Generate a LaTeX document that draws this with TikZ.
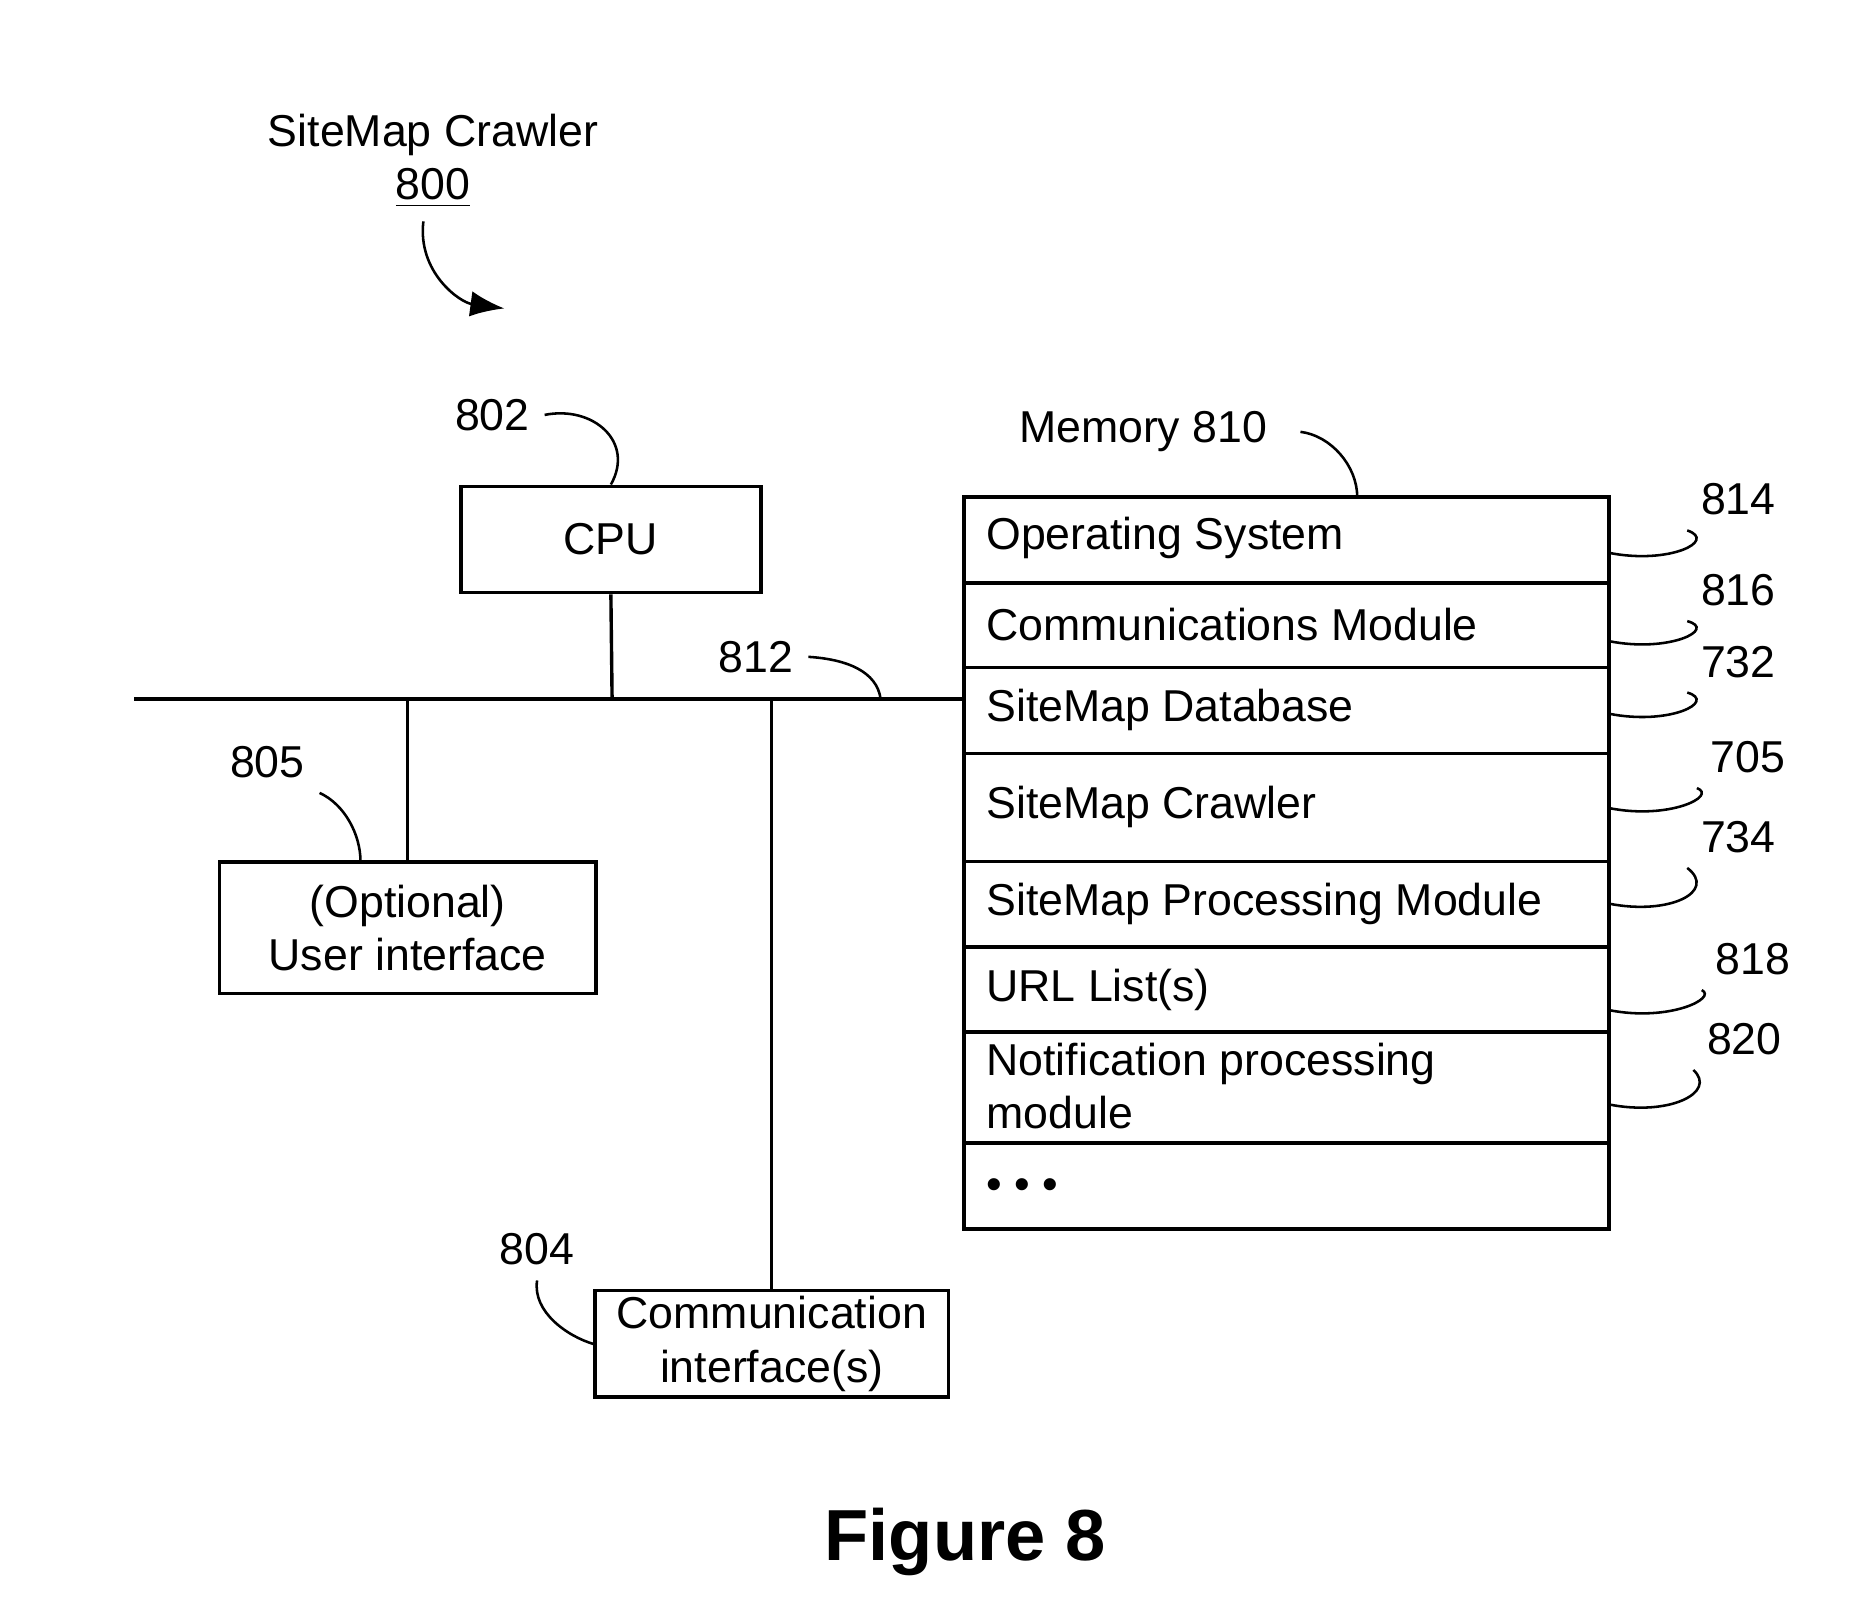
\documentclass[tikz,border=0pt]{standalone}
\usepackage{fontspec}
\setmainfont{Liberation Sans}
\usetikzlibrary{arrows.meta}
\begin{document}
\begin{tikzpicture}[x=0.01cm,y=-0.01cm,
	box/.style={draw=black, thick, inner sep=0pt},
	lbl/.style={font=\fontsize{10.5}{12.5}\selectfont},
	lead/.style={draw=black, semithick},
	row/.style={lbl, anchor=west}]
	\useasboundingbox (0,0) rectangle (1550,1328);
	% title and arrow
	\node[lbl, align=center] (title) at (358,133) {SiteMap Crawler\\\underline{800}};
	\coordinate (t1) at (350,183);
	\coordinate (t2) at (417,255);
	\draw[lead, -{Latex[length=8pt,width=6pt]}] (t1) .. controls (345,225) and (380,250) .. (t2);
	% CPU
	\node[box, minimum width=2.48cm, minimum height=0.88cm, lbl] (cpu) at (505,446) {CPU};
	\node[lbl] (n802) at (407,343) {802};
	\draw[lead] (n802.east) .. controls (490,335) and (525,365) .. (cpu.north);
	% bus
	\coordinate (busl) at (111,578);
	\coordinate (busr) at (797,578);
	\draw[thick] (busl) -- (busr);
	\coordinate (cpub) at (506,578);
	\draw[thick] (cpu.south) -- (cpub);
	\node[lbl] (n812) at (625,543) {812};
	\coordinate (b812) at (728,578);
	\draw[lead] (n812.east) .. controls (700,545) and (725,555) .. (b812);
	% user interface
	\node[box, minimum width=3.11cm, minimum height=1.09cm, lbl, align=center] (ui) at (337,767) {(Optional)\\User interface};
	\coordinate (uib) at (337,578);
	\draw[thick] (uib) -- (ui.north);
	\node[lbl] (n805) at (221,630) {805};
	\coordinate (ui5) at (298,712);
	\draw[lead] (n805.south east) .. controls (285,665) and (298,690) .. (ui5);
	% communication interface
	\node[box, minimum width=2.92cm, minimum height=0.88cm, lbl, align=center] (ci) at (638,1111) {Communication\\interface(s)};
	\coordinate (cib) at (638,578);
	\draw[thick] (cib) -- (ci.north);
	\node[lbl] (n804) at (444,1033) {804};
	\draw[lead] (n804.south) .. controls (440,1085) and (470,1105) .. (ci.west);
	% memory
	\draw[thick] (797,411) rectangle (1330,1016);
	\foreach \y in {482,552,623,712,783,853,945}
		\draw[thick] (797,\y) -- (1330,\y);
	\node[row] (os) at (803,445) {Operating System};
	\node[row] (cm) at (803,516) {Communications Module};
	\node[row] (db) at (803,587) {SiteMap Database};
	\node[row] (cr) at (803,667) {SiteMap Crawler};
	\node[row] (pm) at (803,747) {SiteMap Processing Module};
	\node[row] (ul) at (803,818) {URL List(s)};
	\node[row, align=left] (np) at (803,898) {Notification processing\\module};
	\node[row] (dots) at (803,983) {\textbullet\ \textbullet\ \textbullet};
	\node[lbl] (mem) at (945,357) {Memory 810};
	\coordinate (memt) at (1122,411);
	\draw[lead] (mem.east) ++(15,0) .. controls (1100,360) and (1122,385) .. (memt);
	% side labels
	\foreach \n/\ly/\ry/\lx in {814/413/457/1437, 816/488/530/1437, 732/547/590/1437, 705/626/668/1445, 734/692/747/1437, 818/793/835/1449, 820/859/913/1442}{
		\node[lbl] (s\n) at (\lx,\ly) {\n};
		\coordinate (e\n) at (1330,\ry);
		\draw[lead] (e\n) .. controls (1380,\ry+10) and (1420,\ry-10) .. ([xshift=-12]s\n.south);
	}
	\node[font=\bfseries\fontsize{17}{20}\selectfont] (fig) at (798,1275) {Figure 8};
\end{tikzpicture}
\end{document}
